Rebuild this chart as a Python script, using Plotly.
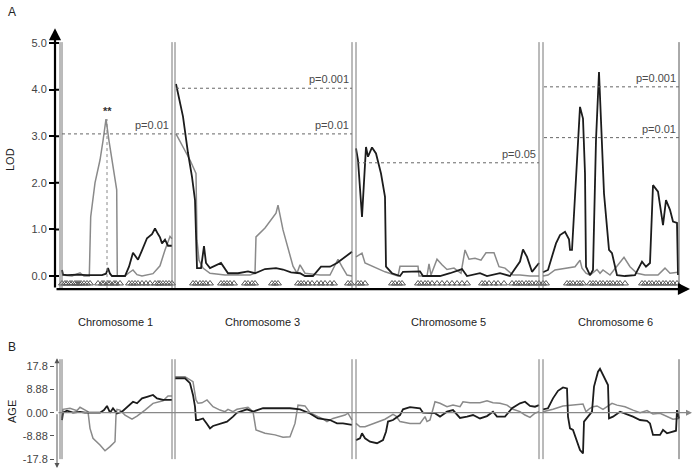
import plotly.graph_objects as go

# ---------------- data ----------------
CHROM_NAMES = ["Chromosome 1", "Chromosome 3", "Chromosome 5", "Chromosome 6"]
CHROM_LENGTHS = [110, 177, 183, 136]
CHROM_GAPS = [3, 4, 4]

# LOD profiles (position within chromosome, LOD)
C1_LOD_BLACK = [(0, 0.13), (1, 0.03), (5, 0.02), (15, 0.03), (25, 0.02), (40, 0.02), (44, 0.05), (46, 0.17),
                (48, 0.05), (50, 0), (63, 0), (67, 0.2), (71, 0.5), (76, 0.35), (80, 0.55), (85, 0.81), (90, 0.9),
                (93, 1.02), (96, 0.9), (98, 0.83), (100, 0.7), (103, 0.78), (106, 0.65), (110, 0.65)]
C1_LOD_GRAY = [(0, 0.02), (10, 0.0), (18, 0.07), (22, 0.0), (27.3, 0), (28.7, 1.27), (33, 2.0), (38, 2.49),
               (41, 2.9), (44, 3.37), (47, 2.9), (49.7, 2.5), (54.7, 1.85), (55.3, 0), (63, 0), (67, 0.07),
               (71, 0.13), (75, 0.03), (80, 0.0), (91, 0.05), (98, 0.22), (103, 0.56), (106, 0.75), (108, 0.85),
               (110, 0.8)]
C3_LOD_BLACK = [(1, 4.12), (8, 3.42), (13, 2.64), (17, 2.13), (20, 1.63), (21, 0.84), (22, 0.17), (26, 0.17),
                (29, 0.64), (31, 0.28), (35, 0.17), (46, 0.28), (53, 0.06), (63, 0.06), (73, 0.1), (80, 0.06),
                (90, 0.15), (101, 0.17), (108, 0.14), (116, 0.08), (125, 0.06), (130, 0), (138, 0), (146, 0.2),
                (155, 0.2), (162, 0.28), (170, 0.41), (177, 0.52)]
C3_LOD_GRAY = [(1, 3.05), (8, 2.77), (15, 2.49), (21, 2.2), (22, 0.77), (24, 0.34), (28, 0.17), (35, 0.06),
               (50, 0.02), (75, 0.02), (80, 0.06), (81, 0.84), (90, 1.03), (101, 1.35), (103, 1.52), (108, 0.99),
               (118, 0.21), (122, 0.06), (125, 0.24), (130, 0.06), (145, 0.02), (155, 0.02), (163, 0.36),
               (167, 0.2), (172, 0.02), (177, 0)]
C5_LOD_BLACK = [(0, 2.74), (2, 2.49), (6, 1.27), (10, 2.77), (12, 2.56), (16, 2.76), (20, 2.63), (25, 2.2),
                (29, 1.7), (30, 0.2), (36, 0.06), (44, 0), (47, 0.09), (64, 0.1), (67, 0), (84, 0), (94, 0.06),
                (106, 0.15), (111, 0), (124, 0.06), (131, 0), (144, 0.06), (154, 0), (164, 0.31), (167, 0.57),
                (171, 0.41), (176, 0.09), (183, 0.28)]
C5_LOD_GRAY = [(0, 0.41), (6, 0.49), (9, 0.28), (29, 0.09), (42, 0), (44, 0.21), (62, 0.21), (63, 0), (71, 0),
               (73, 0.26), (75, 0.02), (81, 0.36), (86, 0.24), (91, 0.14), (98, 0.17), (105, 0.06), (109, 0.56),
               (113, 0.36), (119, 0.38), (125, 0.34), (130, 0.5), (138, 0.5), (143, 0.2), (149, 0.17),
               (157, 0.02), (164, 0.02), (174, 0), (183, 0)]
C6_LOD_BLACK = [(0, 0.08), (5, 0.13), (10, 0.49), (13, 0.7), (17, 0.88), (22, 0.95), (26, 0.79), (27, 0.56),
                (29, 0.56), (32, 1.63), (37, 3.63), (40, 3.38), (42, 2.2), (43, 0.2), (47, 0.02), (50, 0.13),
                (53, 2.92), (56, 4.38), (58, 3.42), (61, 1.77), (66, 0.56), (69, 0.49), (74, 0.02), (82, 0),
                (92, 0.02), (99, 0.31), (103, 0.2), (107, 0.28), (110, 1.95), (115, 1.81), (120, 1.09),
                (123, 1.63), (127, 1.42), (130, 1.17), (134, 1.14), (135, 0.02)]
C6_LOD_GRAY = [(0, 0), (5, 0.02), (12, 0.13), (22, 0.17), (32, 0.2), (37, 0.34), (39, 0.17), (43, 0.06),
               (47, 0.02), (54, 0.14), (57, 0.06), (60, 0.13), (67, 0.02), (81, 0.4), (87, 0.2), (94, 0.06),
               (102, 0.02), (115, 0.02), (122, 0.17), (127, 0.06), (135, 0.08)]

# AGE effect profiles (position within chromosome, effect)
C1_AGE_BLACK = [(0, -2.8), (1, 0), (5, 0.8), (11, 0), (18, 0.3), (23, 0), (38, 0), (42, 1), (45, 2.6), (48, 0),
                (51, 1.7), (55, -0.3), (60, 0.4), (66, 2.3), (71, 4.2), (75, 3.6), (80, 5.5), (85, 6.1),
                (91, 6.8), (95, 5.5), (101, 4.9), (110, 4.9)]
C1_AGE_GRAY = [(0, -2), (1, 1.3), (8, 1.7), (15, 0.8), (18, 2.1), (22, 1.3), (26, 0.4), (28, -6), (31, -9.8),
               (38, -12.4), (43, -14.6), (48, -13), (53, -11.1), (54, -0.9), (55, 1.3), (58, 1.0), (63, -0.9),
               (70, -2.5), (75, -1.3), (83, 1), (91, 3.6), (101, 4.6), (106, 6.4), (110, 6.4)]
C3_AGE_BLACK = [(0, 13.2), (10, 13.2), (15, 11.3), (18, 6.8), (20, 2.3), (21, -2.8), (23, -2.8), (28, -2.2),
                (32, -4.3), (35, -6), (38, -5.1), (45, -4.1), (52, -3.4), (58, -1.5), (62, 0), (72, 1.3),
                (78, 0.4), (88, 1.7), (115, 1.7), (125, 1.3), (135, -0.3), (143, -2.2), (155, -2.8), (162, -4.1),
                (168, -4.1), (177, -4.7)]
C3_AGE_GRAY = [(0, 13.8), (10, 13.8), (18, 11.9), (21, 4.9), (23, 3.6), (27, 3.8), (32, 4.9), (38, 2.3),
               (45, 1), (50, 0.4), (53, 1.3), (58, 0.4), (62, 1.3), (73, 2.1), (78, 0.4), (81, -6.6), (90, -7.9),
               (100, -8.5), (108, -9.4), (115, -9.2), (120, -4.1), (123, 2.9), (130, 2.6), (135, 0),
               (143, -1.5), (147, -2.2), (152, -3.4), (158, -2.2), (170, -0.9), (173, -0.2), (177, -2.8)]
C5_AGE_BLACK = [(0, -10.5), (4, -9.8), (6, -7.9), (9, -9.8), (14, -11.1), (21, -11.7), (27, -10.5), (30, -7.3),
                (32, -3.4), (37, -2.8), (44, -0.9), (47, 1.3), (54, 2.1), (64, 1.7), (67, 0), (79, -0.2),
                (84, -1.5), (91, 0.4), (97, 1), (104, -2.0), (111, -1.5), (117, -0.9), (124, -2.2), (131, -1.3),
                (137, 0.4), (141, -1.5), (149, -1.5), (156, 1.7), (164, 3.6), (169, 4.2), (174, 2.6),
                (179, 2.3), (183, 2.9)]
C5_AGE_GRAY = [(0, -4.1), (4, -5.4), (9, -5.4), (19, -4.1), (29, -2.5), (37, -0.6), (40, -1.3), (44, -3.4),
               (54, -4.1), (64, -4.1), (69, -1.5), (71, -3.4), (74, -2.8), (79, 4.2), (84, 3.6), (91, 2.3),
               (97, 2.9), (104, 2.3), (107, 4.2), (114, 3.8), (124, 3.8), (131, 4.6), (137, 3.8), (144, 3.6),
               (151, 2.9), (157, 1.3), (164, 0.4), (169, -0.9), (174, -1.8), (179, -0.2), (183, 0.4)]
C6_AGE_BLACK = [(0, 1.3), (5, 1.7), (10, 5.5), (15, 8.4), (20, 9.7), (24, 9.3), (25, -1.5), (27, -6),
                (30, -6.6), (34, -11.1), (37, -14.3), (40, -15.6), (41, -3.4), (45, -1.5), (49, 0.4), (51, 10),
                (55, 15.7), (57, 16.8), (61, 13.8), (65, 10.6), (66, -2.2), (70, -1.5), (77, 0.4), (84, -0.5),
                (90, -1.5), (97, -2.8), (104, -3.1), (107, -4.1), (110, -8.5), (117, -8.5), (120, -6.6),
                (124, -7.9), (130, -7.3), (133, -6.9), (134, 1.0), (135, -1.3), (136, -2.2)]
C6_AGE_GRAY = [(0, 0.4), (10, 1.3), (20, 2.6), (32, 2.9), (40, 3.3), (43, 0.4), (47, 1.7), (50, 2.3),
               (54, 2.6), (60, 1.3), (64, 2.3), (69, 3.6), (74, 2.9), (82, 2.3), (90, 1), (97, 0), (104, 0.8),
               (110, -0.5), (117, -0.2), (124, -1.5), (130, -2.5), (136, -2.2)]

# marker positions (within chromosome)
C1_MARKERS = [0, 3, 5, 8, 10, 13, 15, 17, 19, 22, 25, 28, 36, 40, 42, 46, 48, 52, 54, 58, 67, 70, 73, 76, 80,
              84, 88, 93, 96, 98, 101, 104, 107, 110]
C3_MARKERS = [18, 21, 25, 28, 31, 35, 46, 49, 52, 55, 59, 70, 73, 77, 80, 97, 100, 103, 123, 126, 129, 133,
              137, 142, 146, 150, 155, 159, 173, 176]
C5_MARKERS = [2, 5, 9, 36, 39, 43, 46, 62, 65, 69, 72, 76, 81, 86, 91, 96, 101, 106, 111, 126, 129, 133, 138,
              142, 148, 156, 160, 163, 166, 170, 173, 176, 180, 183]
C6_MARKERS = [0, 3, 24, 27, 30, 34, 37, 40, 47, 50, 53, 57, 60, 64, 67, 70, 74, 77, 82, 99, 102, 106, 109,
              113, 116, 120, 123, 127, 130, 134]

# significance thresholds
THRESH_CHROM = [0, 1, 1, 2, 3, 3]
THRESH_VALUE = [3.05, 4.03, 3.05, 2.43, 4.06, 2.97]
THRESH_LABEL = ["p=0.01", "p=0.001", "p=0.01", "p=0.05", "p=0.001", "p=0.01"]

PEAK_CHROM, PEAK_POS, PEAK_LOD = 0, 45, 3.37

LOD_TICKS = [0, 1, 2, 3, 4, 5]
LOD_TICKTEXT = ["0.0", "1.0", "2.0", "3.0", "4.0", "5.0"]
AGE_TICKS = [-17.8, -8.88, 0, 8.88, 17.8]
AGE_TICKTEXT = ["-17.8", "-8.88", "0.00", "8.88", "17.8"]

LOD_CURVES = [(C1_LOD_BLACK, C1_LOD_GRAY), (C3_LOD_BLACK, C3_LOD_GRAY), (C5_LOD_BLACK, C5_LOD_GRAY),
              (C6_LOD_BLACK, C6_LOD_GRAY)]
AGE_CURVES = [(C1_AGE_BLACK, C1_AGE_GRAY), (C3_AGE_BLACK, C3_AGE_GRAY), (C5_AGE_BLACK, C5_AGE_GRAY),
              (C6_AGE_BLACK, C6_AGE_GRAY)]
MARKERS = [C1_MARKERS, C3_MARKERS, C5_MARKERS, C6_MARKERS]

# ---------------- build ----------------
starts = [0]
for i in range(1, len(CHROM_LENGTHS)):
    starts.append(starts[-1] + CHROM_LENGTHS[i - 1] + CHROM_GAPS[i - 1])
ends = [s + l for s, l in zip(starts, CHROM_LENGTHS)]

BLACK = "#1c1c1c"
GRAY = "#8a8a8a"
TXT = "#333333"
FONT = "Arial, Liberation Sans, sans-serif"

fig = go.Figure()

for ci in range(4):
    s = starts[ci]
    for pts, col, w in ((LOD_CURVES[ci][1], GRAY, 1.5), (LOD_CURVES[ci][0], BLACK, 1.8)):
        fig.add_trace(go.Scatter(x=[s + p[0] for p in pts], y=[p[1] for p in pts], mode="lines",
                                 line=dict(color=col, width=w), xaxis="x", yaxis="y",
                                 showlegend=False, hoverinfo="skip"))
    for pts, col, w in ((AGE_CURVES[ci][1], GRAY, 1.5), (AGE_CURVES[ci][0], BLACK, 1.8)):
        fig.add_trace(go.Scatter(x=[s + p[0] for p in pts], y=[p[1] for p in pts], mode="lines",
                                 line=dict(color=col, width=w), xaxis="x2", yaxis="y2",
                                 showlegend=False, hoverinfo="skip"))
    fig.add_trace(go.Scatter(x=[s + m for m in MARKERS[ci]], y=[-0.16] * len(MARKERS[ci]), mode="markers",
                             marker=dict(symbol="triangle-up-open", size=6, color="#555555",
                                         line=dict(width=1, color="#555555")),
                             xaxis="x", yaxis="y", showlegend=False, hoverinfo="skip", cliponaxis=False))

shapes = []
annotations = []

# chromosome boundary lines (double)
bounds = []
for ci in range(4):
    if ci == 0:
        bounds += [starts[0] - 2, starts[0]]
    else:
        bounds += [ends[ci - 1], starts[ci]]
bounds_single = [ends[-1]]
for b in bounds:
    shapes.append(dict(type="line", xref="x", yref="y", x0=b, x1=b, y0=-0.28, y1=5.02,
                       line=dict(color="#777777", width=1)))
    shapes.append(dict(type="line", xref="x2", yref="y2", x0=b, x1=b, y0=-17.8, y1=20.5,
                       line=dict(color="#777777", width=1)))
for b in bounds_single:
    shapes.append(dict(type="line", xref="x", yref="y", x0=b, x1=b, y0=-0.28, y1=5.02,
                       line=dict(color="#555555", width=1)))
    shapes.append(dict(type="line", xref="x2", yref="y2", x0=b, x1=b, y0=-17.8, y1=20.5,
                       line=dict(color="#555555", width=1)))

# tick marks crossing the LOD axis (inner half)
for t in LOD_TICKS:
    shapes.append(dict(type="line", xref="x", yref="y", x0=-7, x1=-3, y0=t, y1=t,
                       line=dict(color="black", width=2)))

# thresholds
for ci, v, lab in zip(THRESH_CHROM, THRESH_VALUE, THRESH_LABEL):
    x0 = starts[ci] + (1 if ci > 0 else 0)
    x1 = ends[ci]
    shapes.append(dict(type="line", xref="x", yref="y", x0=x0, x1=x1, y0=v, y1=v,
                       line=dict(color="#666666", width=1, dash="dot")))
    annotations.append(dict(x=x1 - 1, y=v, xref="x", yref="y", text=lab, showarrow=False,
                            xanchor="right", yanchor="bottom", yshift=1,
                            font=dict(size=11, color="#4a4a4a", family=FONT)))

# peak marker
px = starts[PEAK_CHROM] + PEAK_POS
shapes.append(dict(type="line", xref="x", yref="y", x0=px, x1=px, y0=-0.28, y1=PEAK_LOD,
                   line=dict(color="#888888", width=1, dash="dot")))
annotations.append(dict(x=px, y=PEAK_LOD, xref="x", yref="y", text="<b>**</b>", showarrow=False,
                        xanchor="center", yanchor="bottom", yshift=0,
                        font=dict(size=11, color=TXT, family=FONT)))

# axis arrows (top panel)
annotations.append(dict(x=-7, y=5.32, ax=-7, ay=-0.28, xref="x", yref="y", axref="x", ayref="y", text="",
                        showarrow=True, arrowhead=2, arrowsize=1.1, arrowwidth=2.2, arrowcolor="black",
                        standoff=0, startstandoff=0))
annotations.append(dict(x=628, y=-0.28, ax=-7, ay=-0.28, xref="x", yref="y", axref="x", ayref="y", text="",
                        showarrow=True, arrowhead=2, arrowsize=1.1, arrowwidth=2.2, arrowcolor="black",
                        standoff=0, startstandoff=0))
# axis arrows (bottom panel)
for tip in (20.9, -21.2):
    annotations.append(dict(x=-5, y=tip, ax=-5, ay=0, xref="x2", yref="y2", axref="x2", ayref="y2", text="",
                            showarrow=True, arrowhead=2, arrowsize=1, arrowwidth=1, arrowcolor="#555555",
                            standoff=0, startstandoff=0))
annotations.append(dict(x=630, y=0, ax=-5, ay=0, xref="x2", yref="y2", axref="x2", ayref="y2", text="",
                        showarrow=True, arrowhead=2, arrowsize=1, arrowwidth=1.2, arrowcolor="#888888",
                        standoff=0, startstandoff=0))

# chromosome labels
LABEL_CENTERS = [53, 200, 386, 553]
for ci, name in enumerate(CHROM_NAMES):
    annotations.append(dict(x=LABEL_CENTERS[ci], y=1 - 322 / 476, xref="x", yref="paper", text=name,
                            showarrow=False, xanchor="center", yanchor="middle",
                            font=dict(size=11, color="#222222", family=FONT)))

# panel letters and axis titles
common = dict(xref="paper", yref="paper", showarrow=False, xanchor="center", yanchor="middle")
annotations += [
    dict(x=12 / 697, y=1 - 12 / 476, text="A", font=dict(size=12, color="#222222", family=FONT), **common),
    dict(x=12 / 697, y=1 - 347 / 476, text="B", font=dict(size=12, color="#222222", family=FONT), **common),
    dict(x=10 / 697, y=1 - 160 / 476, text="LOD", textangle=-90,
         font=dict(size=11, color="#222222", family=FONT), **common),
    dict(x=12 / 697, y=1 - 412 / 476, text="AGE", textangle=-90,
         font=dict(size=11, color="#222222", family=FONT), **common),
]

xdom = [55 / 697, 1.0]
fig.update_layout(
    width=697, height=476, margin=dict(l=0, r=0, t=0, b=0),
    paper_bgcolor="white", plot_bgcolor="white", showlegend=False,
    font=dict(family=FONT, size=11, color=TXT),
    xaxis=dict(domain=xdom, range=[-7, 635], anchor="y", showgrid=False, zeroline=False, showline=False,
               showticklabels=False, ticks=""),
    yaxis=dict(domain=[1 - 290 / 476, 1 - 24.4 / 476], range=[-0.3, 5.4], anchor="x", showgrid=False,
               zeroline=False, showline=False, tickvals=LOD_TICKS, ticktext=LOD_TICKTEXT, ticks="outside",
               ticklen=5, tickwidth=2, tickcolor="black", tickfont=dict(size=11, color="#444444")),
    xaxis2=dict(domain=xdom, range=[-7, 635], anchor="y2", showgrid=False, zeroline=False, showline=False,
                showticklabels=False, ticks=""),
    yaxis2=dict(domain=[1 - 470.1 / 476, 1 - 355.3 / 476], range=[-22, 22], anchor="x2", showgrid=False,
                zeroline=False, showline=False, tickvals=AGE_TICKS, ticktext=AGE_TICKTEXT, ticks="outside",
                ticklen=4, tickwidth=1, tickcolor="#555555", tickfont=dict(size=11, color="#444444")),
    shapes=shapes, annotations=annotations,
)

fig.write_html("out.html", config={"displayModeBar": False},
               post_script="document.body.style.margin='0';document.body.style.overflow='hidden';")
